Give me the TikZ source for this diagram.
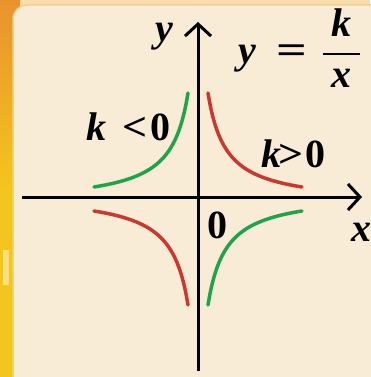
\documentclass[tikz,border=0pt]{standalone}
\usepackage{fontspec}
\setmainfont{Liberation Serif}
\usetikzlibrary{arrows.meta}
\definecolor{cream}{HTML}{F8ECD6}
\definecolor{rim}{HTML}{F0CF92}
\definecolor{stripO}{HTML}{E9922E}
\definecolor{stripY}{HTML}{F2C61C}
\definecolor{curveR}{HTML}{C9392E}
\definecolor{curveG}{HTML}{22A24A}
\tikzset{
  axis/.style={line width=3pt,black,-{Straight Barb[length=12pt,width=26pt,line width=3pt]}},
  redc/.style={line width=3.5pt,curveR,line cap=round},
  greenc/.style={line width=3.5pt,curveG,line cap=round},
  lbl/.style={font=\fontsize{40}{40}\selectfont\bfseries\itshape,inner sep=0pt,anchor=base},
  num/.style={font=\fontsize{40}{40}\selectfont\bfseries,inner sep=0pt,anchor=base},
}
\begin{document}
\begin{tikzpicture}[x=1pt,y=-1pt]
\useasboundingbox (0,0) rectangle (370,377);
% background
\fill[stripO!60!stripY!40!white] (0,0) rectangle (370,377);
\shade[top color=stripO, bottom color=stripY, middle color=stripY] (0,0) rectangle (20,377);
\fill[white,opacity=0.45] (3,250) rectangle (9,285);
\fill[cream,draw=rim,line width=1.5pt,rounded corners=14pt] (13,5) rectangle (390,395);
% axes
\coordinate (O) at (198,197);
\coordinate (xs) at (22,197);
\coordinate (xe) at (362,197);
\coordinate (ys) at (198,371);
\coordinate (ye) at (198,22);
\draw[axis] (xs) -- (xe);
\draw[axis] (ys) -- (ye);
% curves
\draw[redc] plot[domain=10:104,samples=50,smooth] ({198+\x},{197-(2016/(\x+8)-8)});
\draw[greenc] plot[domain=10:104,samples=50,smooth] ({198-\x},{197-(2016/(\x+8)-8)});
\draw[redc] plot[domain=10:104,samples=50,smooth] ({198-\x},{199+(2016/(\x+8)-6)});
\draw[greenc] plot[domain=10:104,samples=50,smooth] ({198+\x},{199+(2016/(\x+8)-6)});
% labels
\node[lbl] (ylab) at (164,42) {y};
\node[lbl] (xlab) at (361,241) {x};
\node[num] (orig) at (217,238) {0};
\node[lbl] (eqy) at (247,64) {y};
\node[num] (eq) at (292,64) {\scalebox{1.35}[1]{=}};
\node[lbl] (fk) at (341,37) {k};
\draw[line width=2.5pt] (323,54) -- (360,54);
\node[lbl] (fx) at (341,88) {x};
\node[lbl] (kn) at (96,140) {k};
\node[num] (lt) at (135,140) {\scalebox{1.1}[1]{<}};
\node[num] (z1) at (160,140) {0};
\node[lbl] (kp) at (271,167) {k};
\node[num] (gt) at (291,167) {\scalebox{1.1}[1]{>}};
\node[num] (z2) at (315,167) {0};
\end{tikzpicture}
\end{document}
